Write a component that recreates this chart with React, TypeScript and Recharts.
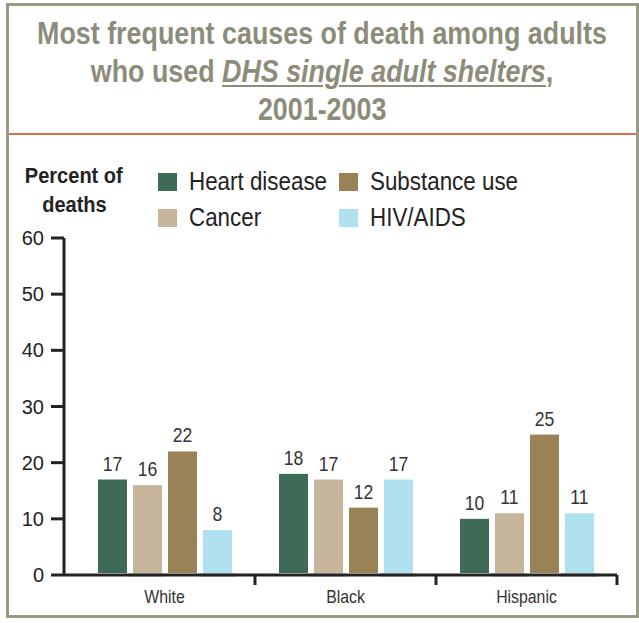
import React from "react";
import { BarChart, Bar, XAxis, YAxis, LabelList } from "recharts";

// Share of deaths (%) by race/ethnicity, 2001-2003
const groups = ["White", "Black", "Hispanic"];
const heartDisease = [17, 18, 10];
const cancer = [16, 17, 11];
const substanceUse = [22, 12, 25];
const hivAids = [8, 17, 11];
const yTicks = [0, 10, 20, 30, 40, 50, 60];

const series = [
  { key: "heart", name: "Heart disease", values: heartDisease, color: "#3d6b56", light: false },
  { key: "cancer", name: "Cancer", values: cancer, color: "#c6b59a", light: true },
  { key: "substance", name: "Substance use", values: substanceUse, color: "#9a8257", light: false },
  { key: "hiv", name: "HIV/AIDS", values: hivAids, color: "#b0e1ef", light: true },
];

// legend reads row by row: heart, substance / cancer, hiv
const legendOrder = ["heart", "substance", "cancer", "hiv"];

const data = groups.map((g, i) => {
  const row: Record<string, string | number> = { group: g };
  series.forEach((s) => (row[s.key] = s.values[i]));
  return row;
});

const FONT = '"Liberation Sans", Arial, sans-serif';
const TITLE_COLOR = "#8d8c7b";
const INK = "#232323";

const W = 639;
const H = 623;
const MARGIN = { top: 238, right: 22, bottom: 8, left: 14 };
const Y_AXIS_W = 50;
const X_AXIS_H = 40;
const X_PAD = 10;
const BAND = (W - MARGIN.left - MARGIN.right - Y_AXIS_W - X_PAD) / groups.length;

// horizontally squeezed text, to get a condensed face out of Liberation Sans
function Narrow({ k, children }: { k: number; children: React.ReactNode }) {
  return (
    <span style={{ display: "inline-block", transform: `scaleX(${k})`, transformOrigin: "center", whiteSpace: "nowrap" }}>
      {children}
    </span>
  );
}

// same squeeze for svg text, pinned at x
const squeeze = (x: number, k: number) => `translate(${x} 0) scale(${k} 1) translate(${-x} 0)`;

// category label plus a divider tick on the right edge of each band
function GroupTick(props: any) {
  const { x, y, payload } = props;
  const axisY = y - 8;
  return (
    <g>
      <line x1={x + BAND / 2} x2={x + BAND / 2} y1={axisY} y2={axisY + 10} stroke={INK} strokeWidth={3} />
      <text x={x} y={axisY + 28} textAnchor="middle" fontFamily={FONT} fontSize={18} fill="#333" transform={squeeze(x, 0.88)}>
        {payload.value}
      </text>
    </g>
  );
}

function ValueLabel(props: any) {
  const { x, y, width, value } = props;
  const cx = x + width / 2;
  return (
    <text x={cx} y={y - 9} textAnchor="middle" fontFamily={FONT} fontSize={20} fill="#333" transform={squeeze(cx, 0.88)}>
      {value}
    </text>
  );
}

// bar with the baseline under it knocked out, grey for the pale series
function makeShape(color: string, light: boolean) {
  return (props: any) => {
    const { x, y, width, height } = props;
    const base = y + height;
    return (
      <g>
        <rect x={x - 3} y={base - 2} width={width + 6} height={4} fill="#fff" />
        {light ? (
          <rect x={x - 4} y={base - 1.5} width={width + 8} height={3} fill="#9b9b9b" />
        ) : (
          <rect x={x - 3} y={base} width={width + 6} height={1} fill="#cfcfcf" />
        )}
        <rect x={x} y={y} width={width} height={Math.max(height - 2, 0)} fill={color} />
      </g>
    );
  };
}

function LegendBox() {
  return (
    <div
      style={{
        position: "absolute",
        left: 158,
        top: 167,
        display: "grid",
        gridTemplateColumns: "181px 200px",
        rowGap: 7,
        fontFamily: FONT,
        fontSize: 25,
        color: INK,
      }}
    >
      {legendOrder.map((key) => {
        const s = series.find((d) => d.key === key)!;
        return (
          <div key={s.key} style={{ display: "flex", alignItems: "center", height: 29 }}>
            <span style={{ width: 19, height: 18, background: s.color, marginRight: 12, flex: "none" }} />
            <span style={{ display: "inline-block", transform: "scaleX(0.895)", transformOrigin: "left", whiteSpace: "nowrap" }}>
              {s.name}
            </span>
          </div>
        );
      })}
    </div>
  );
}

export default function App() {
  return (
    <div style={{ position: "absolute", left: 0, top: 0, width: W, height: H, background: "#fff", overflow: "hidden" }}>
      <div
        style={{
          position: "absolute",
          left: 6,
          top: 3,
          width: 627,
          height: 609,
          border: "3px solid #9a9a88",
        }}
      />
      <div
        style={{
          position: "absolute",
          left: -40,
          top: 15,
          width: 724,
          textAlign: "center",
          fontFamily: FONT,
          fontWeight: 700,
          fontSize: 31,
          lineHeight: "38px",
          color: TITLE_COLOR,
        }}
      >
        <div>
          <Narrow k={0.866}>Most frequent causes of death among adults</Narrow>
        </div>
        <div>
          <Narrow k={0.866}>
            who used{" "}
            <span style={{ fontStyle: "italic", textDecoration: "underline", textDecorationThickness: 2, textUnderlineOffset: 3 }}>
              DHS single adult shelters
            </span>
            ,
          </Narrow>
        </div>
        <div>
          <Narrow k={0.866}>2001-2003</Narrow>
        </div>
      </div>
      <div style={{ position: "absolute", left: 9, top: 133, width: 627, height: 2, background: "#d9704d" }} />
      <div
        style={{
          position: "absolute",
          left: 14,
          top: 161,
          width: 120,
          textAlign: "center",
          fontFamily: FONT,
          fontWeight: 700,
          fontSize: 22,
          lineHeight: "29px",
          color: INK,
        }}
      >
        <Narrow k={0.91}>Percent of</Narrow>
        <br />
        <Narrow k={0.91}>deaths</Narrow>
      </div>
      <LegendBox />
      <div style={{ position: "absolute", left: 0, top: 0 }}>
        <BarChart width={W} height={H} data={data} margin={MARGIN} barSize={29} barGap={6}>
          <XAxis
            dataKey="group"
            height={X_AXIS_H}
            padding={{ left: X_PAD, right: 0 }}
            axisLine={{ stroke: INK, strokeWidth: 3 }}
            tickLine={false}
            tick={<GroupTick />}
            interval={0}
          />
          <YAxis
            width={Y_AXIS_W}
            domain={[0, 60]}
            ticks={yTicks}
            interval={0}
            axisLine={{ stroke: INK, strokeWidth: 3 }}
            tickLine={{ stroke: INK, strokeWidth: 3 }}
            tickSize={13}
            tickMargin={7}
            tick={{ fontFamily: FONT, fontSize: 20, fill: INK }}
          />
          {series.map((s) => (
            <Bar
              key={s.key}
              dataKey={s.key}
              name={s.name}
              fill={s.color}
              shape={makeShape(s.color, s.light)}
              isAnimationActive={false}
            >
              <LabelList dataKey={s.key} content={<ValueLabel />} />
            </Bar>
          ))}
        </BarChart>
      </div>
    </div>
  );
}
